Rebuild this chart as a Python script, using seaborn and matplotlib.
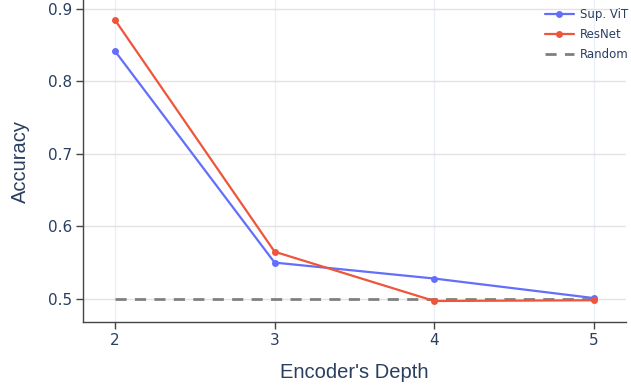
import matplotlib
matplotlib.use("Agg")
import matplotlib.pyplot as plt
import seaborn as sns
import pandas as pd

depth = [2, 3, 4, 5]
vit = [0.842, 0.550, 0.528, 0.501]
resnet = [0.885, 0.565, 0.497, 0.498]
random_acc = [0.5, 0.5, 0.5, 0.5]

sns.set_theme(style="white")
plt.rcParams['font.family'] = ['DejaVu Sans']
txt = "#2a3f5f"

df = pd.DataFrame({
    "depth": depth * 2,
    "acc": vit + resnet,
    "model": ["Sup. ViT"] * 4 + ["ResNet"] * 4,
})

fig = plt.figure(figsize=(6.31, 3.85), dpi=100)
ax = fig.add_axes([0.1315, 0.1636, 0.992 - 0.1315, 1.0 - 0.1636])

ax.plot(depth, random_acc, color="#808080", lw=2, ls=(0, (4, 3)), label="Random", zorder=2)
sns.lineplot(data=df, x="depth", y="acc", hue="model",
             palette={"Sup. ViT": "#636EFA", "ResNet": "#EF553B"},
             marker="o", markersize=5, markeredgewidth=0, lw=1.6, ax=ax, zorder=3)

ax.set_xlim(1.8, 5.2)
ax.set_ylim(0.468, 0.9124)
ax.set_xticks(depth)
ax.set_yticks([0.5, 0.6, 0.7, 0.8, 0.9])
ax.grid(axis="y", color="#e2e2e2", lw=1)
ax.grid(axis="x", color="#ebf0f8", lw=1)
ax.set_axisbelow(True)
for s in ["top", "right"]:
    ax.spines[s].set_visible(False)
for s in ["left", "bottom"]:
    ax.spines[s].set_color("#444444")
    ax.spines[s].set_linewidth(1)
ax.tick_params(axis="both", direction="out", length=5, width=1, color="#444444",
               labelsize=11, labelcolor=txt, pad=3, bottom=True, left=True)
ax.set_xlabel("Encoder's Depth", fontsize=14.5, color=txt, labelpad=11,
              family=["Liberation Sans", "DejaVu Sans"])
ax.set_ylabel("Accuracy", fontsize=14.5, color=txt, labelpad=13,
              family=["Liberation Sans", "DejaVu Sans"])

h, l = ax.get_legend_handles_labels()
order = [l.index("Sup. ViT"), l.index("ResNet"), l.index("Random")]
leg = ax.legend([h[i] for i in order], [l[i] for i in order], loc="upper left",
                bbox_to_anchor=(545 / 631, 1 - 8 / 385), bbox_transform=fig.transFigure,
                frameon=False, fontsize=8.5, handlelength=2.45, handletextpad=0.5,
                labelspacing=0.6, borderaxespad=0, borderpad=0)
for t in leg.get_texts():
    t.set_color(txt)

fig.savefig("out.png", dpi=100)
